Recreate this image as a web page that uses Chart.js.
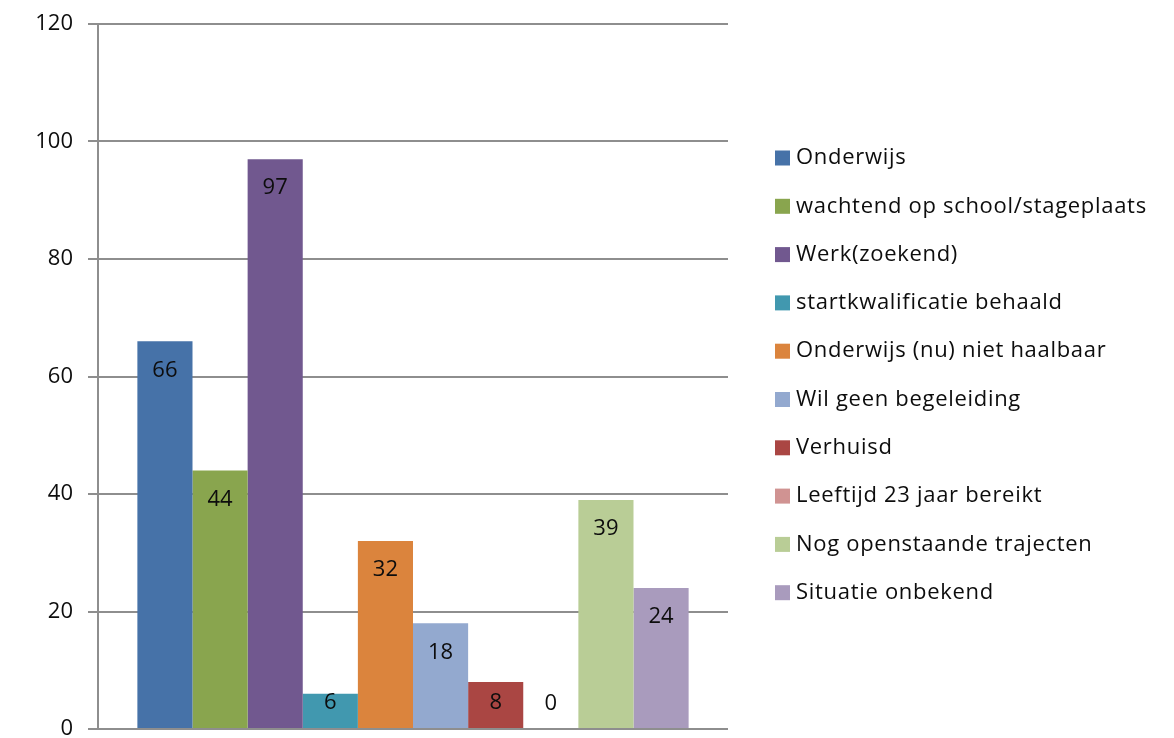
<!DOCTYPE html>
<html>
<head>
<meta charset="utf-8">
<script src="https://cdn.jsdelivr.net/npm/chart.js@4/dist/chart.umd.min.js"></script>
<style>
  html, body { margin: 0; padding: 0; background: #fff; }
  #wrap { width: 1174px; height: 738px; }
</style>
</head>
<body>
<div id="wrap"><canvas id="myChart" width="1174" height="738"></canvas></div>
<script>
// data
const categories = ["Uitstroom"];
const seriesLabels = [
    "Onderwijs",
    "wachtend op school/stageplaats",
    "Werk(zoekend)",
    "startkwalificatie behaald",
    "Onderwijs (nu) niet haalbaar",
    "Wil geen begeleiding",
    "Verhuisd",
    "Leeftijd 23 jaar bereikt",
    "Nog openstaande trajecten",
    "Situatie onbekend"
];
const seriesValues = [66, 44, 97, 6, 32, 18, 8, 0, 39, 24];
const seriesColors = [
    "#4672a8", "#89a54e", "#71588f", "#4198af", "#db843d",
    "#93a9cf", "#aa4643", "#d09392", "#b9cd96", "#a99bbd"
];
const yTicks = [0, 20, 40, 60, 80, 100, 120];

const FONT = "'Open Sans', 'DejaVu Sans', sans-serif";
const TEXT = "#0d0d0d";
const GRID = "#8e8e8e";

// value labels inside the top of each bar
const barLabels = {
    id: "barLabels",
    afterDatasetsDraw(chart) {
        const ctx = chart.ctx;
        ctx.save();
        ctx.font = "22px " + FONT;
        ctx.fillStyle = TEXT;
        ctx.textAlign = "center";
        ctx.textBaseline = "middle";
        chart.data.datasets.forEach((ds, i) => {
            const bar = chart.getDatasetMeta(i).data[0];
            const y = Math.min(bar.y + 29, bar.base - 25);
            ctx.fillText(String(ds.data[0]), bar.x, y);
        });
        ctx.restore();
    }
};

// legend drawn at the right
const sideLegend = {
    id: "sideLegend",
    afterDraw(chart) {
        const ctx = chart.ctx;
        ctx.save();
        ctx.font = "22px " + FONT;
        ctx.letterSpacing = "0.7px";
        ctx.textBaseline = "middle";
        chart.data.datasets.forEach((ds, i) => {
            const cy = 158 + i * 48.3;
            ctx.fillStyle = ds.backgroundColor;
            ctx.fillRect(775, cy - 7.5, 15, 15);
            ctx.fillStyle = TEXT;
            ctx.fillText(ds.label, 796, cy);
        });
        ctx.restore();
    }
};

const ctx = document.getElementById('myChart').getContext('2d');
const myChart = new Chart(ctx, {
    type: 'bar',
    data: {
        labels: categories,
        datasets: seriesLabels.map((label, i) => ({
            label: label,
            data: [seriesValues[i]],
            backgroundColor: seriesColors[i],
            borderWidth: 0,
            barPercentage: 1,
            categoryPercentage: 0.875
        }))
    },
    options: {
        responsive: false,
        animation: false,
        layout: { padding: { top: 24, bottom: 9, left: 0, right: 446 } },
        plugins: {
            legend: { display: false },
            tooltip: { enabled: false }
        },
        scales: {
            x: { display: false },
            y: {
                min: 0,
                max: 120,
                afterBuildTicks: (s) => { s.ticks = yTicks.map(v => ({ value: v })); },
                afterFit: (s) => { s.width = 98; s.paddingTop = 0; s.paddingBottom = 0; },
                ticks: {
                    color: TEXT,
                    font: { family: FONT, size: 22 },
                    padding: 15
                },
                grid: { color: GRID, lineWidth: 2, tickLength: 10 },
                border: { color: GRID, width: 2 }
            }
        }
    },
    plugins: [barLabels, sideLegend]
});
</script>
</body>
</html>
